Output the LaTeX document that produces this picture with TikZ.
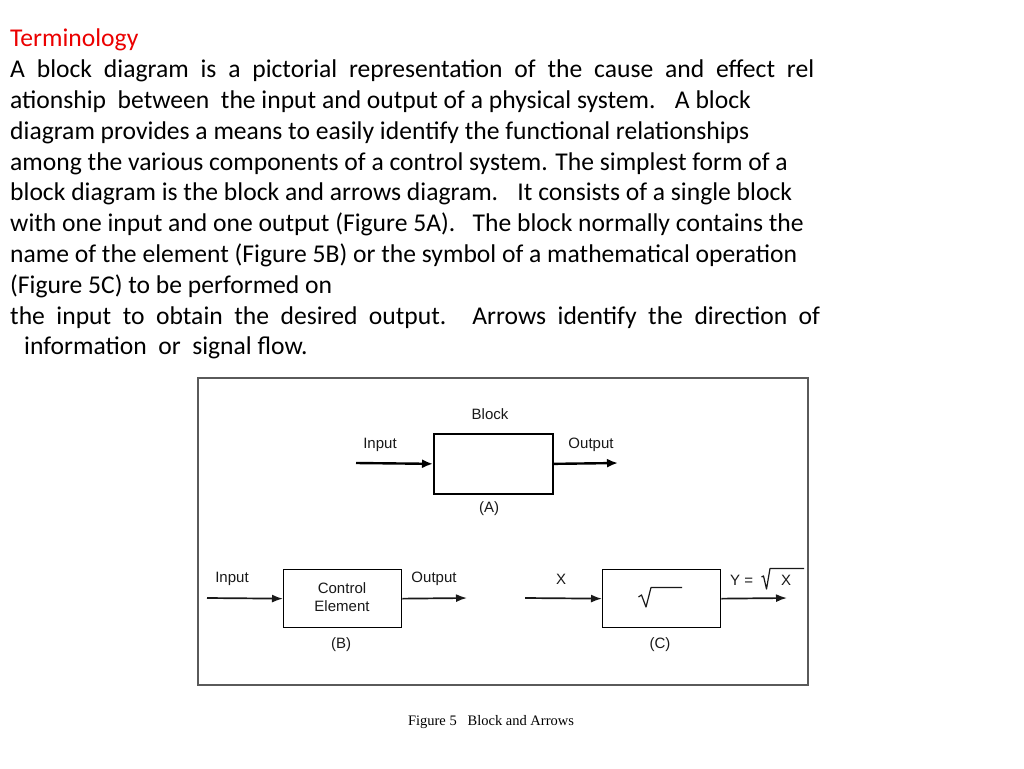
\documentclass[tikz,border=0pt]{standalone}
\usepackage{fontspec}
\setmainfont{Carlito}
\newfontfamily\diafont{Liberation Sans}
\newfontfamily\capfont{Liberation Serif}
\usetikzlibrary{arrows.meta}
\definecolor{termred}{RGB}{235,0,0}
\definecolor{framegray}{RGB}{90,90,90}
\definecolor{labgray}{RGB}{25,25,25}
\tikzset{
  txt/.style={anchor=base west, inner sep=0pt, font=\fontsize{25.6}{30}\selectfont},
  blockbox/.style={draw=black, line width=1.7pt, anchor=north west, inner sep=0pt},
  sig/.style={line width=2.4pt, -{Latex[length=11pt,width=9pt]}},
  sigthin/.style={line width=1.7pt, draw=labgray, -{Latex[length=11pt,width=8pt]}},
  lab/.style={inner sep=0pt, text=labgray, font=\diafont\fontsize{15}{17}\selectfont},
}
\begin{document}
\begin{tikzpicture}[x=1pt,y=-1pt]
\useasboundingbox (0,0) rectangle (1024,768);
\fill[white] (0,0) rectangle (1024,768);

% ---- text ----
\node[txt, text=termred] (t0) at (10,47) {Terminology};
\node[txt] (t1) at (10,77.5) {\makebox[804pt][s]{A block diagram is a pictorial representation of the cause and effect rel}};
\node[txt] (t2) at (10,108) {ationship~ between~ the input and output of a physical system.~~ A block};
\node[txt] (t3) at (10,139) {diagram provides a means to easily identify the functional relationships};
\node[txt] (t4) at (10,170) {among the various components of a control system. The simplest form of a};
\node[txt] (t5) at (10,200.5) {block diagram is the block and arrows diagram.~~ It consists of a single block};
\node[txt] (t6) at (10,231) {with one input and one output (Figure 5A).~~ The block normally contains the};
\node[txt] (t7) at (10,262) {name of the element (Figure 5B) or the symbol of a mathematical operation};
\node[txt] (t8) at (10,293) {(Figure 5C) to be performed on};
\node[txt] (t9) at (10,324) {\makebox[810pt][s]{the input to obtain the desired output.\hspace{1pt} Arrows identify the direction of}};
\node[txt] (t10) at (24,354.5) {information~ or~ signal flow.};

% ---- frame ----
\draw[framegray, line width=1.3pt] (198,378) rectangle (808,685);

% ---- (A) ----
\node[blockbox, minimum width=119pt, minimum height=60pt] (boxA) at (433,433) {};
\coordinate (inA) at (356,463);
\coordinate (outA) at (618,463);
\draw[sig] (inA) -- (boxA.west);
\draw[sig] (boxA.east) -- (outA);
\node[lab] (blockL) at (490,414) {Block};
\node[lab] (inAL) at (380,445) {Input};
\node[lab] (outAL) at (591,445) {Output};
\node[lab] (capA) at (489,509) {(A)};

% ---- (B) ----
\node[blockbox, line width=1.3pt, minimum width=118pt, minimum height=58pt] (boxB) at (283,569) {};
\coordinate (inB) at (207,598);
\coordinate (outB) at (467,598);
\draw[sigthin] (inB) -- (boxB.west);
\draw[sigthin] (boxB.east) -- (outB);
\node[lab] (inBL) at (232,579) {Input};
\node[lab, align=center, font=\diafont\fontsize{15}{18.5}\selectfont] (ceL) at (342,597) {Control\\Element};
\node[lab] (outBL) at (434,579) {Output};
\node[lab] (capB) at (341,645) {(B)};

% ---- (C) ----
\node[blockbox, line width=1.3pt, minimum width=118pt, minimum height=58pt] (boxC) at (602,569) {};
\coordinate (inC) at (525,598);
\coordinate (outC) at (787,598);
\draw[sigthin] (inC) -- (boxC.west);
\draw[sigthin] (boxC.east) -- (outC);
\node[lab] (xL) at (561,579) {X};
\node[lab] (capC) at (660,645) {(C)};
% radical inside the box
\draw[labgray, line width=1.2pt, line join=round] (638.5,597) -- (641.5,595) -- (646,607) -- (651,587.5) -- (682,587.5);
% Y = sqrt X
\node[lab, anchor=base west] (yL) at (730,585) {Y =};
\draw[labgray, line width=1.2pt, line join=round] (761.5,577) -- (763.5,576) -- (766.5,589) -- (770,568.5) -- (804,568.5);
\node[lab, anchor=base west] (xL2) at (781,585) {X};

% ---- caption ----
\node[inner sep=0pt, font=\capfont\fontsize{14.5}{16}\selectfont] (cap) at (491,722) {Figure 5~~ Block and Arrows};
\end{tikzpicture}
\end{document}
